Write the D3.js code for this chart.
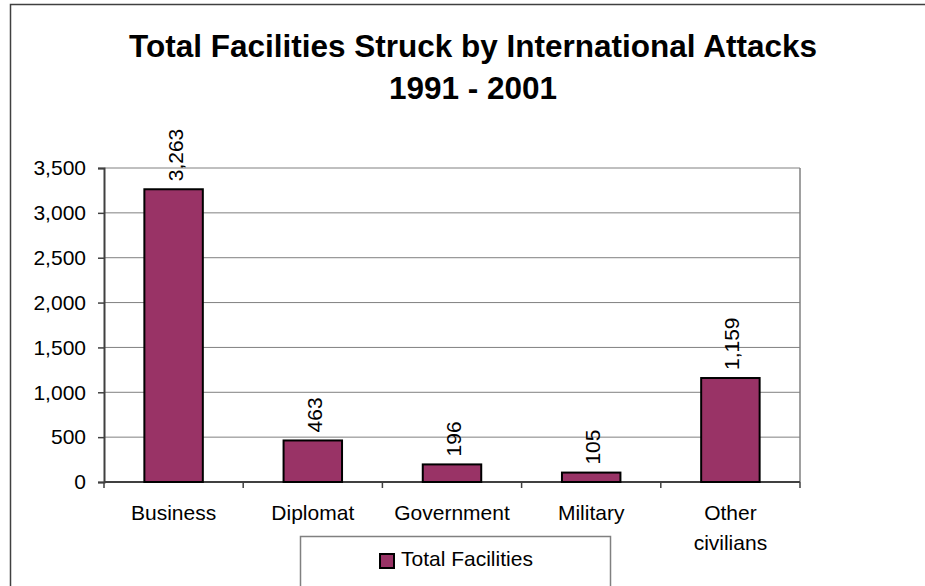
<!DOCTYPE html>
<html>
<head>
<meta charset="utf-8">
<script src="https://cdn.jsdelivr.net/npm/d3@7"></script>
<style>
  body { margin: 0; background: #fff; }
  text { font-family: Arial, "Liberation Sans", sans-serif; fill: #000; }
</style>
</head>
<body>
<div id="chart"></div>
<script>
// data
let categories = ["Business", "Diplomat", "Government", "Military", "Other civilians"];
let values = [3263, 463, 196, 105, 1159];
let yTicks = [0, 500, 1000, 1500, 2000, 2500, 3000, 3500];
let seriesName = "Total Facilities";
let titleLines = ["Total Facilities Struck by International Attacks", "1991 - 2001"];

let width = 925, height = 586;
let plot = {left: 104, top: 168, right: 800, bottom: 482};
let barColor = "#993366";

let svg = d3.select("#chart").append("svg")
  .attr("width", width)
  .attr("height", height);

// outer chart border (runs off the right/bottom edges)
svg.append("rect")
  .attr("x", 10.5).attr("y", 4.5)
  .attr("width", 940).attr("height", 620)
  .attr("fill", "none")
  .attr("stroke", "#404040")
  .attr("stroke-width", 1.5);

// title
svg.append("text")
  .attr("x", 473).attr("y", 57)
  .attr("text-anchor", "middle")
  .style("font-size", "31.5px").style("font-weight", "bold")
  .text(titleLines[0]);
svg.append("text")
  .attr("x", 473).attr("y", 99)
  .attr("text-anchor", "middle")
  .style("font-size", "31.5px").style("font-weight", "bold")
  .text(titleLines[1]);

// scales
let x = d3.scaleBand()
  .domain(categories)
  .range([plot.left, plot.right])
  .paddingInner(0.58).paddingOuter(0.29);

let y = d3.scaleLinear()
  .domain([0, 3500])
  .range([plot.bottom, plot.top]);

// gridlines
svg.append("g")
  .selectAll("line")
  .data(yTicks.slice(1))
  .enter().append("line")
  .attr("x1", plot.left).attr("x2", plot.right)
  .attr("y1", d => y(d)).attr("y2", d => y(d))
  .attr("stroke", "#808080").attr("stroke-width", 1);

// right border of plot
svg.append("line")
  .attr("x1", plot.right).attr("x2", plot.right)
  .attr("y1", plot.top).attr("y2", plot.bottom)
  .attr("stroke", "#808080").attr("stroke-width", 1.5);

// y axis
let yAxis = svg.append("g")
  .attr("transform", "translate(" + plot.left + ",0)")
  .call(d3.axisLeft(y).tickValues(yTicks).tickSize(6).tickPadding(12)
    .tickFormat(d3.format(",")));
yAxis.select(".domain").attr("stroke", "#404040").attr("stroke-width", 2);
yAxis.selectAll(".tick line").attr("stroke", "#404040").attr("stroke-width", 1.5);
yAxis.selectAll(".tick text")
  .style("font-size", "21px")
  .style("font-family", "Arial, 'Liberation Sans', sans-serif")
  .attr("fill", "#000");

// x axis (ticks between categories)
let step = x.step();
let boundaries = d3.range(categories.length + 1).map(i => plot.left + i * (plot.right - plot.left) / categories.length);
svg.append("line")
  .attr("x1", plot.left).attr("x2", plot.right)
  .attr("y1", plot.bottom).attr("y2", plot.bottom)
  .attr("stroke", "#404040").attr("stroke-width", 2);
svg.append("g")
  .selectAll("line")
  .data(boundaries)
  .enter().append("line")
  .attr("x1", d => d).attr("x2", d => d)
  .attr("y1", plot.bottom).attr("y2", plot.bottom + 6)
  .attr("stroke", "#404040").attr("stroke-width", 1.5);

// category labels (wrap to two lines where needed)
let catLabels = svg.append("g")
  .selectAll("text")
  .data(categories)
  .enter().append("text")
  .attr("x", d => x(d) + x.bandwidth() / 2)
  .attr("y", 520)
  .attr("text-anchor", "middle")
  .style("font-size", "21px");
catLabels.each(function(d) {
  let words = d.split(" ");
  let el = d3.select(this);
  words.forEach((w, i) => {
    el.append("tspan")
      .attr("x", x(d) + x.bandwidth() / 2)
      .attr("dy", i === 0 ? 0 : 30)
      .text(w);
  });
});

// bars
svg.append("g")
  .selectAll("rect")
  .data(values)
  .enter().append("rect")
  .attr("x", (d, i) => x(categories[i]))
  .attr("y", d => y(d))
  .attr("width", x.bandwidth())
  .attr("height", d => y(0) - y(d))
  .attr("fill", barColor)
  .attr("stroke", "#000")
  .attr("stroke-width", 2);

// value labels (rotated)
svg.append("g")
  .selectAll("text")
  .data(values)
  .enter().append("text")
  .attr("transform", (d, i) => "translate(" + (x(categories[i]) + x.bandwidth() / 2 + 1.5) + "," + (y(d) - 8) + ") rotate(-90)")
  .attr("dy", "0.36em")
  .attr("text-anchor", "start")
  .style("font-size", "21px")
  .text(d => d3.format(",")(d));

// legend
let legend = svg.append("g");
legend.append("rect")
  .attr("x", 300.5).attr("y", 536.5)
  .attr("width", 310).attr("height", 70)
  .attr("fill", "#fff")
  .attr("stroke", "#808080").attr("stroke-width", 1.5);
legend.append("rect")
  .attr("x", 380).attr("y", 554)
  .attr("width", 14).attr("height", 14)
  .attr("fill", barColor)
  .attr("stroke", "#000").attr("stroke-width", 2);
legend.append("text")
  .attr("x", 401).attr("y", 566)
  .style("font-size", "21px")
  .text(seriesName);
</script>
</body>
</html>
